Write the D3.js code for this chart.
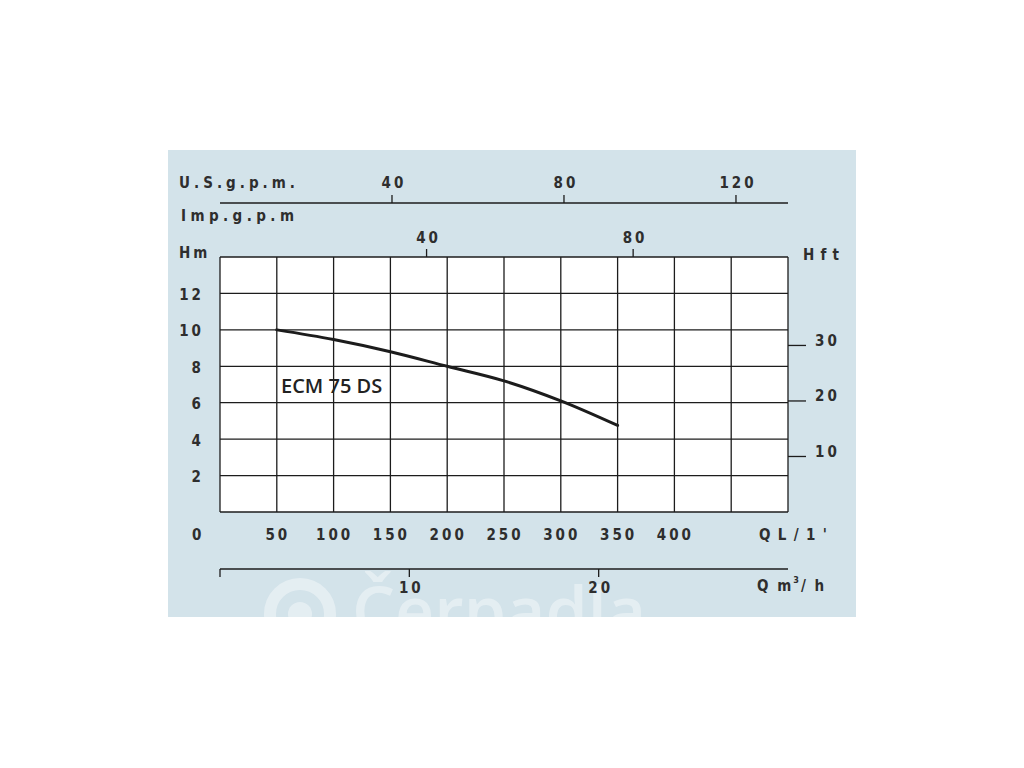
<!DOCTYPE html>
<html>
<head>
<meta charset="utf-8">
<script src="https://cdn.jsdelivr.net/npm/d3@7"></script>
<style>
  html, body { margin: 0; padding: 0; background: #ffffff; }
  svg { display: block; }
  .ax { font-family: "DejaVu Sans Condensed", "DejaVu Sans", sans-serif; font-weight: bold; font-size: 15px; fill: #2e2e2e; letter-spacing: 3px; }
</style>
</head>
<body>
<svg id="chart" width="1024" height="768"></svg>
<script>
// ---- data ----
const flowLmin = [50, 100, 150, 200, 250, 300, 350];          // Q L/min
const headM    = [10, 9.47, 8.8, 8.0, 7.2, 6.1, 4.75];        // H m
const qTicks   = [50, 100, 150, 200, 250, 300, 350, 400];      // bottom labels
const hTicks   = [2, 4, 6, 8, 10, 12];                         // left labels
const usTicks  = [40, 80, 120];                                // U.S. gpm
const impTicks = [40, 80];                                     // Imp gpm
const ftTicks  = [10, 20, 30];                                 // H ft
const m3Ticks  = [10, 20];                                     // Q m3/h
const curveLabel = "ECM 75 DS";

const svg = d3.select("#chart");
const x = d3.scaleLinear().domain([0, 500]).range([220, 788]);
const y = d3.scaleLinear().domain([0, 14]).range([512, 257]);
const ink = "#1c1c1c";

// panel background
svg.append("rect").attr("x", 168).attr("y", 150).attr("width", 688).attr("height", 467).attr("fill", "#d3e3ea");

// watermark (clipped to panel)
const clip = svg.append("defs").append("clipPath").attr("id", "pc");
clip.append("rect").attr("x", 168).attr("y", 150).attr("width", 688).attr("height", 467);
const wm = svg.append("g").attr("clip-path", "url(#pc)").attr("opacity", 0.4);
wm.append("circle").attr("cx", 300).attr("cy", 614).attr("r", 30).attr("fill", "none").attr("stroke", "#ffffff").attr("stroke-width", 12);
wm.append("circle").attr("cx", 300).attr("cy", 614).attr("r", 12).attr("fill", "#ffffff");
wm.append("text").attr("x", 352).attr("y", 636).attr("font-family", "Open Sans, sans-serif").attr("font-size", 68).attr("font-weight", 600).attr("fill", "#ffffff").text("Čerpadla");

// plot area
svg.append("rect").attr("x", x(0)).attr("y", y(14)).attr("width", x(500) - x(0)).attr("height", y(0) - y(14)).attr("fill", "#ffffff");

const grid = svg.append("g").attr("stroke", ink).attr("stroke-width", 1.3);
grid.selectAll("line.v").data(d3.range(0, 501, 50)).join("line").attr("class", "v")
  .attr("x1", d => x(d)).attr("x2", d => x(d)).attr("y1", y(0)).attr("y2", y(14));
grid.selectAll("line.h").data(d3.range(0, 15, 2)).join("line").attr("class", "h")
  .attr("x1", x(0)).attr("x2", x(500)).attr("y1", d => y(d)).attr("y2", d => y(d));

// curve
const line = d3.line().x(d => x(d[0])).y(d => y(d[1])).curve(d3.curveMonotoneX);
svg.append("path").datum(flowLmin.map((q, i) => [q, headM[i]]))
  .attr("d", line).attr("fill", "none").attr("stroke", ink).attr("stroke-width", 3).attr("stroke-linecap", "round");

svg.append("text").attr("x", 281).attr("y", 393)
  .attr("font-family", "Open Sans, sans-serif").attr("font-size", 20).attr("font-weight", 600)
  .attr("fill", "#222").text(curveLabel);

// left axis labels
const t = svg.append("g").attr("class", "ax");
t.selectAll("text.h").data(hTicks).join("text").attr("class", "h")
  .attr("x", 204).attr("y", d => y(d) + 2).attr("text-anchor", "end").attr("dominant-baseline", "middle").text(d => d);
t.append("text").attr("x", 192).attr("y", 535).attr("dominant-baseline", "middle").text("0");
t.append("text").attr("x", 179).attr("y", 253).attr("dominant-baseline", "middle").text("Hm");

// bottom L/min labels
t.selectAll("text.q").data(qTicks).join("text").attr("class", "q")
  .attr("x", d => x(d) + 1).attr("y", 535).attr("text-anchor", "middle").attr("dominant-baseline", "middle").text(d => d);
t.append("text").attr("x", 759).attr("y", 535).attr("dominant-baseline", "middle")
  .attr("textLength", 71).attr("lengthAdjust", "spacing").text("QL/1'");

// top U.S. gpm axis
const axg = svg.append("g").attr("stroke", ink).attr("stroke-width", 1.3);
axg.append("line").attr("x1", x(0)).attr("x2", x(500)).attr("y1", 203).attr("y2", 203);
axg.selectAll("line.us").data(usTicks).join("line").attr("class", "us")
  .attr("x1", d => x(d * 3.785)).attr("x2", d => x(d * 3.785)).attr("y1", 195).attr("y2", 203);
t.selectAll("text.us").data(usTicks).join("text").attr("class", "us")
  .attr("x", d => x(d * 3.785) + 2).attr("y", 183).attr("text-anchor", "middle").attr("dominant-baseline", "middle").text(d => d);
t.append("text").attr("x", 179).attr("y", 183).attr("dominant-baseline", "middle")
  .attr("textLength", 119).attr("lengthAdjust", "spacing").text("U.S.g.p.m.");

// Imp gpm axis
axg.selectAll("line.imp").data(impTicks).join("line").attr("class", "imp")
  .attr("x1", d => x(d * 4.546)).attr("x2", d => x(d * 4.546)).attr("y1", 249).attr("y2", y(14));
t.selectAll("text.imp").data(impTicks).join("text").attr("class", "imp")
  .attr("x", d => x(d * 4.546) + 2).attr("y", 238).attr("text-anchor", "middle").attr("dominant-baseline", "middle").text(d => d);
t.append("text").attr("x", 181).attr("y", 216).attr("dominant-baseline", "middle")
  .attr("textLength", 116).attr("lengthAdjust", "spacing").text("Imp.g.p.m");

// right H ft axis
axg.selectAll("line.ft").data(ftTicks).join("line").attr("class", "ft")
  .attr("x1", x(500)).attr("x2", 806).attr("y1", d => y(d * 0.3048)).attr("y2", d => y(d * 0.3048));
t.selectAll("text.ft").data(ftTicks).join("text").attr("class", "ft")
  .attr("x", 815).attr("y", d => y(d * 0.3048) - 4).attr("dominant-baseline", "middle").text(d => d);
t.append("text").attr("x", 803).attr("y", 255).attr("dominant-baseline", "middle")
  .attr("textLength", 39).attr("lengthAdjust", "spacing").text("Hft");

// bottom m3/h axis
axg.append("line").attr("x1", x(0)).attr("x2", x(500)).attr("y1", 569).attr("y2", 569);
axg.selectAll("line.m3").data([0].concat(m3Ticks)).join("line").attr("class", "m3")
  .attr("x1", d => x(d * 1000 / 60)).attr("x2", d => x(d * 1000 / 60)).attr("y1", 569).attr("y2", 577);
t.selectAll("text.m3").data(m3Ticks).join("text").attr("class", "m3")
  .attr("x", d => x(d * 1000 / 60) + 2).attr("y", 588).attr("text-anchor", "middle").attr("dominant-baseline", "middle").text(d => d);
const qm = t.append("text").attr("x", 757).attr("y", 586).attr("dominant-baseline", "middle").attr("letter-spacing", 2);
qm.append("tspan").text("Q  m");
qm.append("tspan").attr("font-size", 9).attr("dy", -6).text("3");
qm.append("tspan").attr("dy", 6).text("/ h");
</script>
</body>
</html>
